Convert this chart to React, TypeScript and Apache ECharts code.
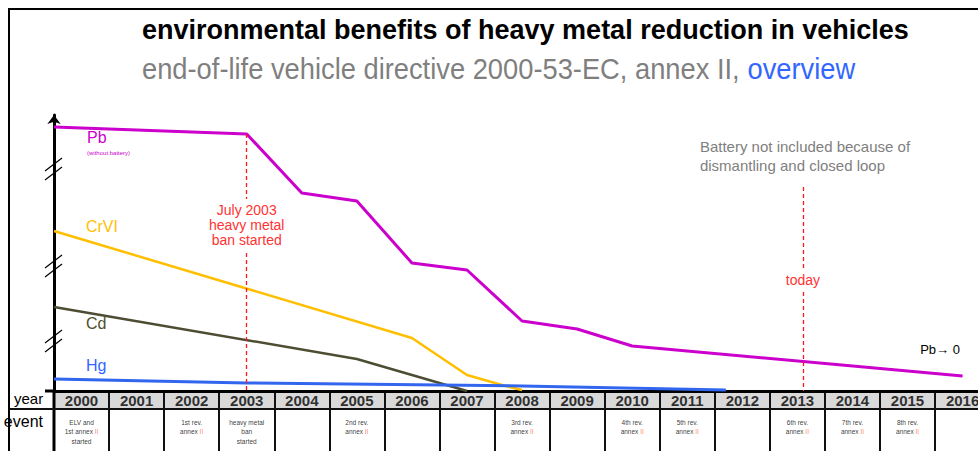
import React, { useEffect, useRef } from "react";
import * as echarts from "echarts";

const years = [2000,2001,2002,2003,2004,2005,2006,2007,2008,2009,2010,2011,2012,2013,2014,2015,2016];

const pbData = [[1999.5,264],[2003,257],[2004,198],[2005,190],[2006,128],[2007,121],[2008,70],[2009,62],[2010,45],[2016,15]];
const crviData = [[1999.5,160],[2006,53],[2007,16],[2007.7,5],[2008,1]];
const cdData = [[1999.5,84],[2005,32],[2007,0]];
const hgData = [[1999.5,12],[2003,8],[2008,5],[2011.7,1]];

const banYear = 2003;
const todayYear = 2013.1;

const eventTexts = [
  "ELV and\n1st annex {o|II}\nstarted", "", "1st rev.\nannex {o|II}", "heavy metal\nban\nstarted", "",
  "2nd rev.\nannex {o|II}", "", "", "3rd rev.\nannex {o|II}", "", "4th rev.\nannex {o|II}",
  "5th rev.\nannex {o|II}", "", "6th rev.\nannex {o|II}", "7th rev.\nannex {o|II}", "8th rev.\nannex {o|II}", ""
];

const FF = '"Liberation Sans", Arial, sans-serif';
const X_MIN = 1999.5;
const X_MAX = 2016.28;

function mp(coord: number[], text: string, label: any) {
  return {
    coord,
    symbolSize: 1,
    itemStyle: { color: "rgba(0,0,0,0)" },
    label: { show: true, formatter: text, position: "inside", fontFamily: FF, ...label },
  };
}

export default function App() {
  const ref = useRef<HTMLDivElement>(null);
  useEffect(() => {
    document.body.style.margin = "0";
    const chart = echarts.init(ref.current!, null, { renderer: "svg" });
    const L = 54;
    const tableX = (gi: number) => ({
      type: "value", gridIndex: gi, min: X_MIN, max: X_MAX, interval: 1,
      axisLine: { show: false }, axisTick: { show: false }, axisLabel: { show: false },
      splitLine: { show: true, showMinLine: false, showMaxLine: false, lineStyle: { color: "#111", width: 2 } },
    });
    const option: any = {
      animation: false,
      backgroundColor: "#ffffff",
      grid: [
        { left: L, top: 115, right: 0, height: 276 },
        { left: L, top: 392, right: 0, height: 16, show: true, backgroundColor: "#d9d9d9", borderWidth: 0 },
        { left: L, top: 409, right: 0, height: 42, show: false },
      ],
      xAxis: [
        { type: "value", gridIndex: 0, min: X_MIN, max: X_MAX,
          axisLine: { show: true, lineStyle: { color: "#000", width: 3 } },
          axisTick: { show: false }, axisLabel: { show: false }, splitLine: { show: false } },
        tableX(1),
        tableX(2),
      ],
      yAxis: [
        { type: "value", gridIndex: 0, min: 0, max: 276,
          axisLine: { show: true, symbol: ["none", "arrow"], symbolSize: [10, 9], lineStyle: { color: "#000", width: 3 } },
          axisTick: { show: false }, axisLabel: { show: false }, splitLine: { show: false } },
        { type: "value", gridIndex: 1, min: 0, max: 1, show: false },
        { type: "value", gridIndex: 2, min: 0, max: 42, inverse: true, show: false },
      ],
      series: [
        { type: "line", name: "Cd", xAxisIndex: 0, yAxisIndex: 0, data: cdData, showSymbol: false,
          lineStyle: { color: "#4d4d33", width: 2.5 }, z: 3,
          markPoint: { z: 6, data: [mp([2000.08, 67], "Cd", { align: "left", color: "#4f4f2a", fontSize: 16 })] } },
        { type: "line", name: "CrVI", xAxisIndex: 0, yAxisIndex: 0, data: crviData, showSymbol: false,
          lineStyle: { color: "#ffbf00", width: 2.5 }, z: 3,
          markPoint: { z: 6, data: [mp([2000.08, 164], "CrVI", { align: "left", color: "#ffbf00", fontSize: 16 })] } },
        { type: "line", name: "Hg", xAxisIndex: 0, yAxisIndex: 0, data: hgData, showSymbol: false,
          lineStyle: { color: "#3366ee", width: 3 }, z: 3,
          markPoint: { z: 6, data: [mp([2000.08, 25], "Hg", { align: "left", color: "#3366ff", fontSize: 16 })] } },
        { type: "line", name: "Pb", xAxisIndex: 0, yAxisIndex: 0, data: pbData, showSymbol: false,
          lineStyle: { color: "#cc00cc", width: 3 }, z: 4,
          markLine: {
            z: 5, symbol: "none", silent: true, label: { show: false },
            lineStyle: { color: "#ff1a1a", type: [4, 3], width: 1.3 },
            data: [
              [{ coord: [banYear, 257] }, { coord: [banYear, 0] }],
              [{ coord: [todayYear, 204] }, { coord: [todayYear, 0] }],
            ],
          },
          markPoint: {
            z: 8,
            data: [
              mp([2000.1, 253], "Pb", { align: "left", color: "#cc00cc", fontSize: 16 }),
              mp([2000.1, 237], "(without battery)", { align: "left", color: "#cc00cc", fontSize: 6 }),
              mp([banYear, 165], "July 2003\nheavy metal\nban started", { color: "#ff3333", fontSize: 14, lineHeight: 15, backgroundColor: "#ffffff", padding: [4, 2] }),
              mp([todayYear, 110], "today", { color: "#ff3333", fontSize: 14, backgroundColor: "#ffffff", padding: [3, 1] }),
              mp([2011.23, 234], "Battery not included because of\ndismantling and closed loop", { align: "left", color: "#808080", fontSize: 15, lineHeight: 19 }),
              mp([2015.23, 41], "Pb\u2192 0", { align: "left", color: "#000000", fontSize: 13 }),
            ],
          } },
        { type: "scatter", xAxisIndex: 1, yAxisIndex: 1, symbolSize: 1, itemStyle: { color: "rgba(0,0,0,0)" },
          data: years.map((y) => [y, 0.5]),
          label: { show: true, position: "inside", formatter: (p: any) => String(p.data[0]), color: "#000", fontWeight: "bold", fontSize: 15, fontFamily: FF } },
        { type: "scatter", xAxisIndex: 2, yAxisIndex: 2, symbolSize: 1, itemStyle: { color: "rgba(0,0,0,0)" },
          data: years.map((y, i) => [y, 8.5, i]).filter((d) => eventTexts[d[2]] !== ""),
          label: { show: true, position: "inside", verticalAlign: "top", align: "center",
            formatter: (p: any) => eventTexts[p.data[2]], color: "#000", fontSize: 6.5, lineHeight: 9.5, fontFamily: FF,
            rich: { o: { color: "#ff6633", fontSize: 6.5, lineHeight: 9.5, fontFamily: FF } } } },
      ],
      graphic: [
        { type: "text", x: 142, y: 30, style: { text: "environmental benefits of heavy metal reduction in vehicles", font: 'bold 27px "Liberation Sans", Arial, sans-serif', fill: "#000", verticalAlign: "middle", align: "left" } },
        { type: "text", x: 142, y: 69, scaleX: 0.91, style: { text: "{g|end-of-life vehicle directive 2000-53-EC, annex II, }{b|overview}", verticalAlign: "middle", align: "left",
          rich: { g: { fill: "#7f7f7f", font: '30px "Liberation Sans", Arial, sans-serif' }, b: { fill: "#3366ff", font: '30px "Liberation Sans", Arial, sans-serif' } } } },
        { type: "text", x: 14, y: 398, style: { text: "year", font: '15px "Liberation Sans", Arial, sans-serif', fill: "#000", verticalAlign: "middle", align: "left" } },
        { type: "text", x: 43, y: 421, style: { text: "event", font: '16px "Liberation Sans", Arial, sans-serif', fill: "#000", verticalAlign: "middle", align: "right" } },
        { type: "line", shape: { x1: 45, y1: 391, x2: 54, y2: 391 }, style: { stroke: "#000", lineWidth: 3 } },
        { type: "line", shape: { x1: 54, y1: 391, x2: 54, y2: 451 }, style: { stroke: "#000", lineWidth: 3 } },
        { type: "line", shape: { x1: 9, y1: 409, x2: 978, y2: 409 }, style: { stroke: "#111", lineWidth: 2 } },
        { type: "line", shape: { x1: 45, y1: 171, x2: 62, y2: 158 }, style: { stroke: "#000", lineWidth: 1.2 } },
        { type: "line", shape: { x1: 45, y1: 180, x2: 62, y2: 167 }, style: { stroke: "#000", lineWidth: 1.2 } },
        { type: "line", shape: { x1: 45, y1: 268, x2: 62, y2: 255 }, style: { stroke: "#000", lineWidth: 1.2 } },
        { type: "line", shape: { x1: 45, y1: 277, x2: 62, y2: 264 }, style: { stroke: "#000", lineWidth: 1.2 } },
        { type: "line", shape: { x1: 45, y1: 343, x2: 62, y2: 330 }, style: { stroke: "#000", lineWidth: 1.2 } },
        { type: "line", shape: { x1: 45, y1: 352, x2: 62, y2: 339 }, style: { stroke: "#000", lineWidth: 1.2 } },
        { type: "line", shape: { x1: 9, y1: 9, x2: 978, y2: 9 }, style: { stroke: "#000", lineWidth: 2 } },
        { type: "line", shape: { x1: 9, y1: 8, x2: 9, y2: 451 }, style: { stroke: "#000", lineWidth: 2 } },
      ],
    };
    chart.setOption(option);
    return () => chart.dispose();
  }, []);
  return <div ref={ref} style={{ position: "fixed", left: 0, top: 0, width: 978, height: 451 }} />;
}
